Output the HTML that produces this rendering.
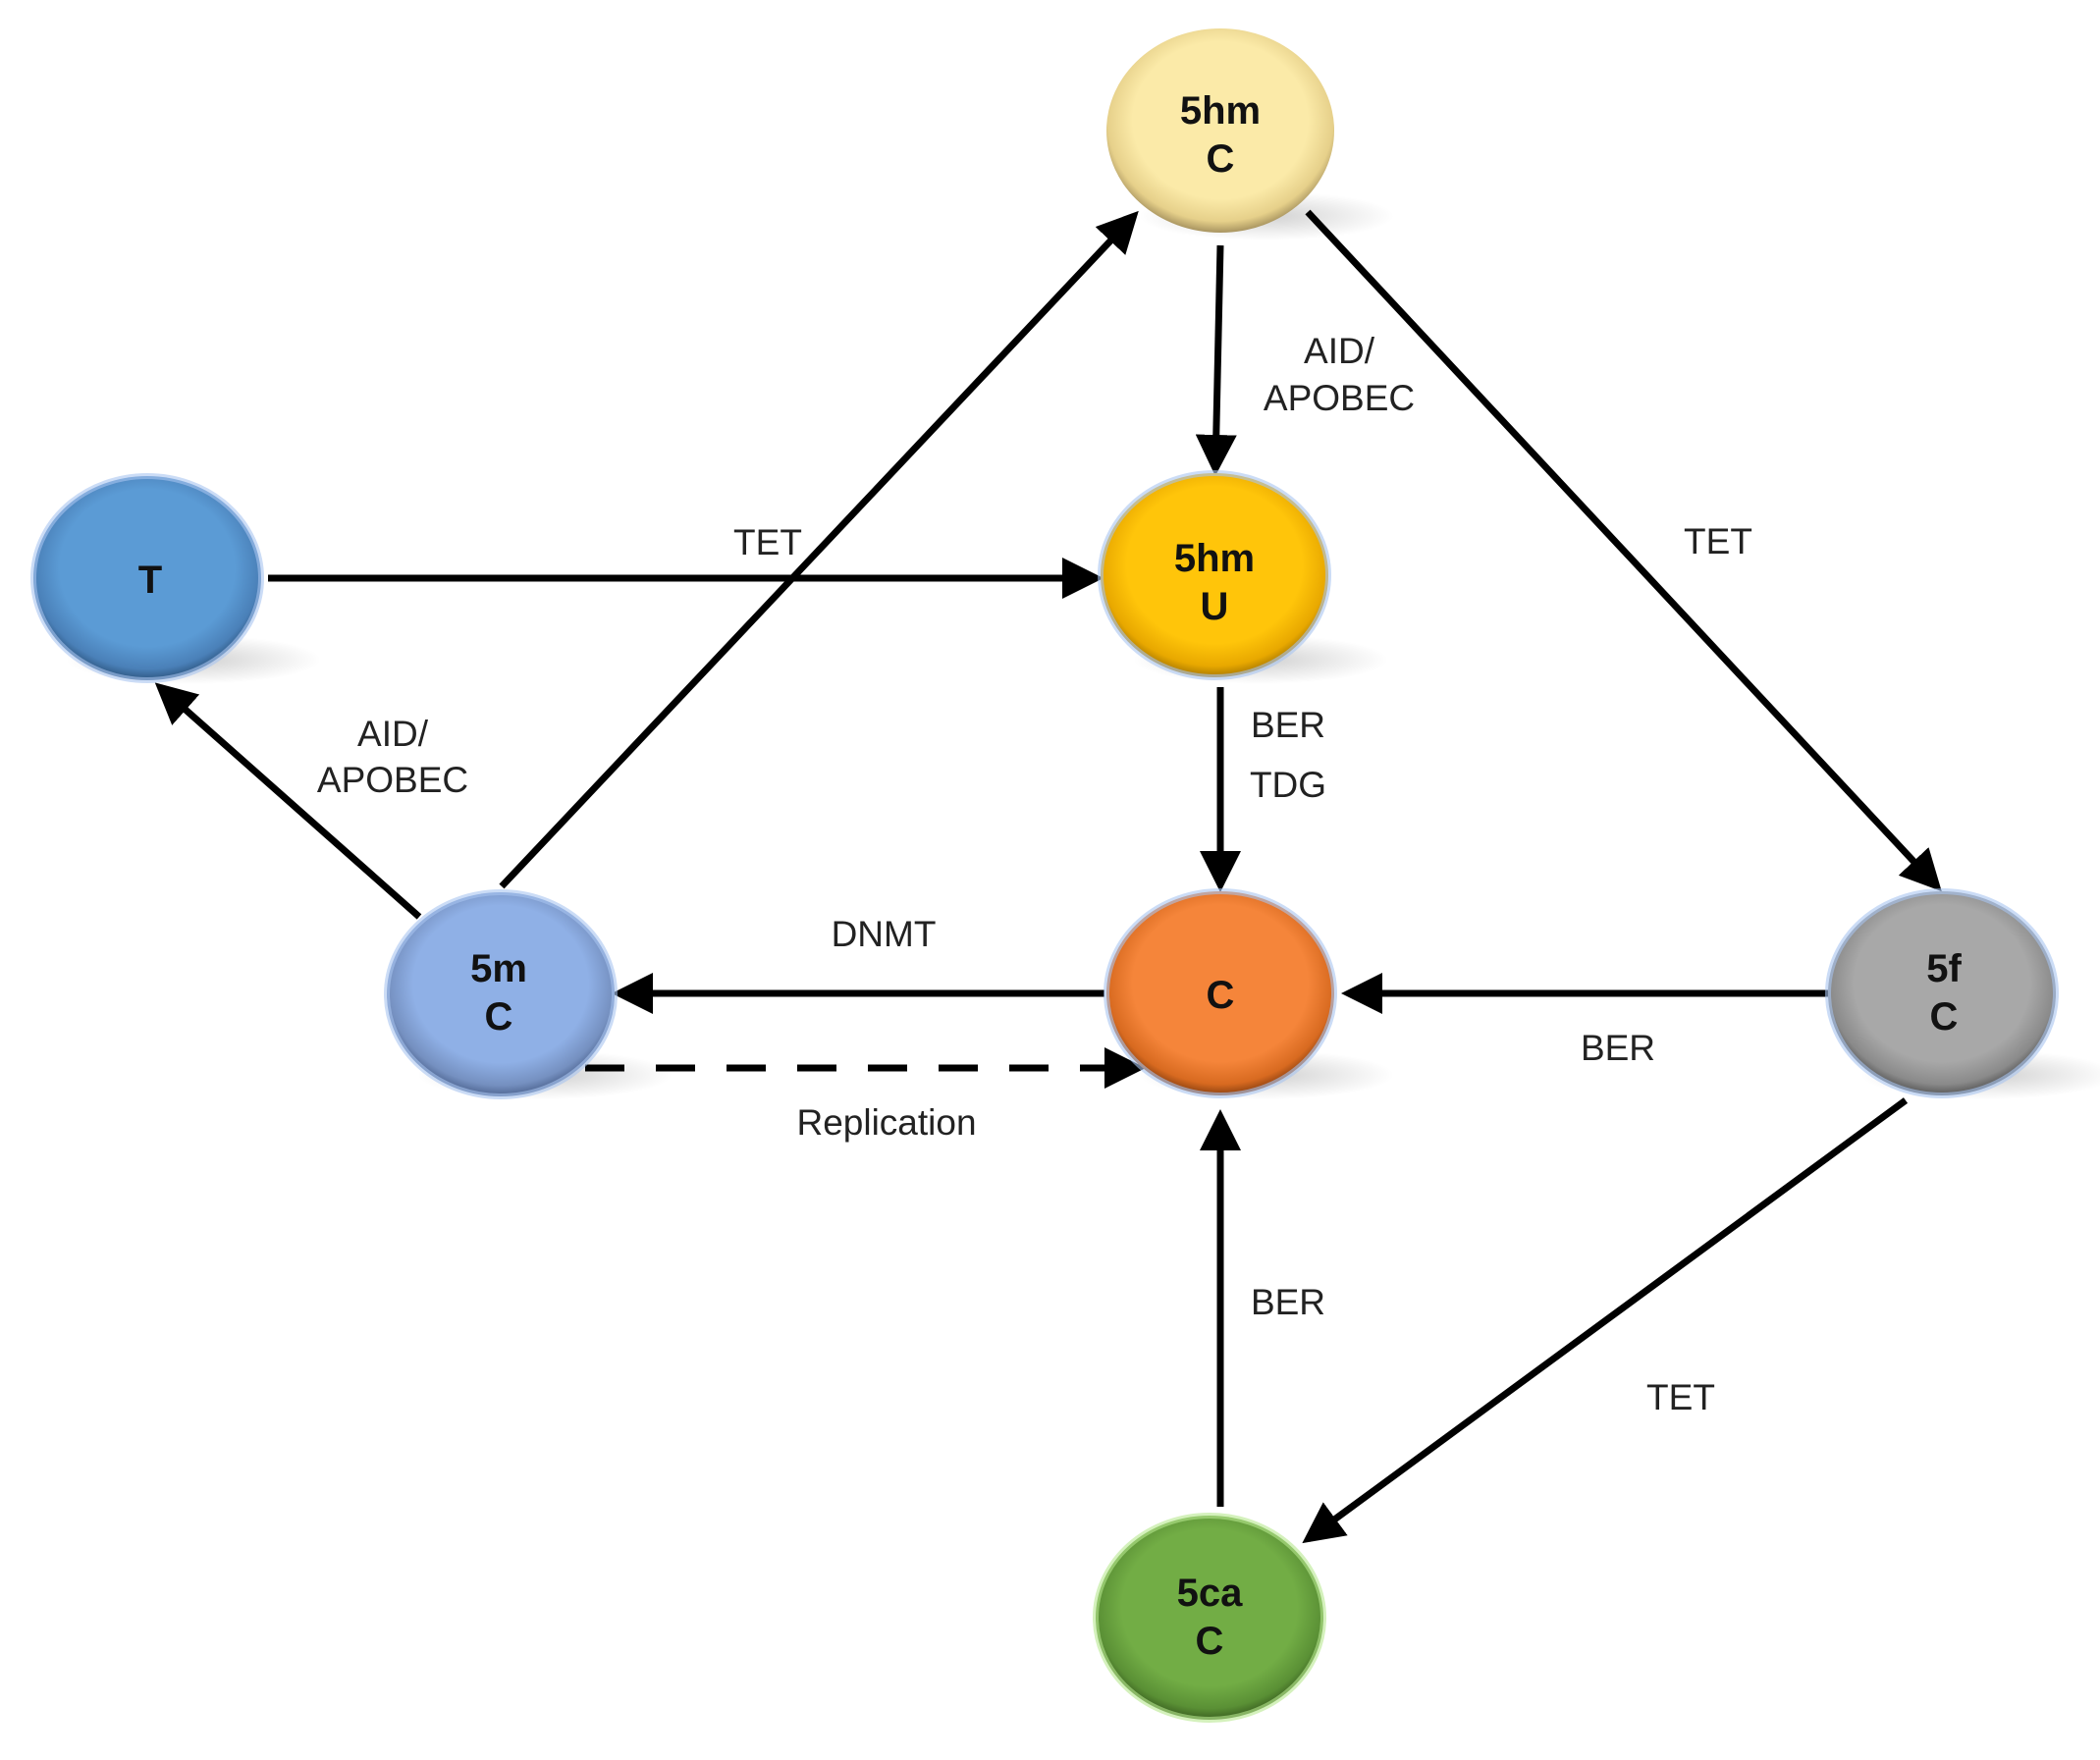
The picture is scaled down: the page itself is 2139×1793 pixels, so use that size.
<!DOCTYPE html>
<html><head><meta charset="utf-8"><style>
html,body{margin:0;padding:0;background:#fff}
svg{display:block}
text{font-family:"Liberation Sans",Arial,sans-serif}
.lbl{font-size:37px;fill:#222;text-anchor:middle}
.nd{font-size:40px;font-weight:bold;fill:#111;text-anchor:middle}
</style></head><body>
<svg width="2139" height="1793" viewBox="0 0 2139 1793" xmlns="http://www.w3.org/2000/svg">
<defs>
<marker id="ah" markerWidth="6" markerHeight="6" refX="5" refY="3" orient="auto" markerUnits="strokeWidth">
<path d="M0,0 L6,3 L0,6 Z" fill="#000"/></marker>
<radialGradient id="gY" cx="50%" cy="45%" r="55%"><stop offset="0.7" stop-color="#fbeaa8"/><stop offset="0.9" stop-color="#e6d08a"/><stop offset="1" stop-color="#a89460"/></radialGradient>
<radialGradient id="gT" cx="50%" cy="45%" r="55%"><stop offset="0.7" stop-color="#5b9bd5"/><stop offset="0.9" stop-color="#4a80b8"/><stop offset="1" stop-color="#2d5680"/></radialGradient>
<radialGradient id="gU" cx="50%" cy="45%" r="55%"><stop offset="0.7" stop-color="#ffc50a"/><stop offset="0.9" stop-color="#e8a800"/><stop offset="1" stop-color="#a87800"/></radialGradient>
<radialGradient id="gM" cx="50%" cy="45%" r="55%"><stop offset="0.7" stop-color="#8fb0e6"/><stop offset="0.9" stop-color="#7590c0"/><stop offset="1" stop-color="#4d6490"/></radialGradient>
<radialGradient id="gC" cx="50%" cy="45%" r="55%"><stop offset="0.7" stop-color="#f5853a"/><stop offset="0.9" stop-color="#d86a20"/><stop offset="1" stop-color="#8a4010"/></radialGradient>
<radialGradient id="gF" cx="50%" cy="45%" r="55%"><stop offset="0.7" stop-color="#a8a8a8"/><stop offset="0.9" stop-color="#8a8a8a"/><stop offset="1" stop-color="#555"/></radialGradient>
<radialGradient id="gG" cx="50%" cy="45%" r="55%"><stop offset="0.7" stop-color="#72ad45"/><stop offset="0.9" stop-color="#5a9035"/><stop offset="1" stop-color="#3a6020"/></radialGradient>
<radialGradient id="sh" cx="50%" cy="50%" r="50%"><stop offset="0" stop-color="#000" stop-opacity="0.18"/><stop offset="1" stop-color="#000" stop-opacity="0"/></radialGradient>
</defs>

<!-- shadows -->
<g fill="url(#sh)">
<ellipse cx="1290" cy="220" rx="130" ry="25"/>
<ellipse cx="197" cy="672" rx="130" ry="25"/>
<ellipse cx="1284" cy="672" rx="130" ry="25"/>
<ellipse cx="555" cy="1095" rx="130" ry="25"/>
<ellipse cx="1290" cy="1095" rx="130" ry="25"/>
<ellipse cx="2025" cy="1095" rx="130" ry="25"/>
</g>

<!-- connectors -->
<g stroke="#000" stroke-width="7" fill="none" marker-end="url(#ah)">
<line x1="511" y1="903" x2="1155" y2="220"/>
<line x1="1243" y1="250" x2="1238" y2="478"/>
<line x1="1332" y1="216" x2="1973" y2="903"/>
<line x1="273" y1="589" x2="1117" y2="589"/>
<line x1="427" y1="934" x2="163" y2="700"/>
<line x1="1243" y1="700" x2="1243" y2="902"/>
<line x1="1125" y1="1012" x2="630" y2="1012"/>
<line x1="1862" y1="1012" x2="1373" y2="1012"/>
<line x1="1941" y1="1121" x2="1332" y2="1568"/>
<line x1="1243" y1="1535" x2="1243" y2="1137"/>
<line x1="596" y1="1088" x2="1160" y2="1088" stroke-dasharray="40 32"/>
</g>

<!-- nodes -->
<g stroke="#a8c4f0" stroke-width="6" stroke-opacity="0.6">
<ellipse cx="1243" cy="133" rx="116" ry="104" fill="url(#gY)" stroke="none"/>
<ellipse cx="150" cy="589" rx="116" ry="104" fill="url(#gT)"/>
<ellipse cx="1237" cy="586" rx="116" ry="104" fill="url(#gU)"/>
<ellipse cx="510" cy="1013" rx="116" ry="104" fill="url(#gM)"/>
<ellipse cx="1243" cy="1012" rx="116" ry="104" fill="url(#gC)"/>
<ellipse cx="1978" cy="1012" rx="116" ry="104" fill="url(#gF)"/>
<ellipse cx="1232" cy="1648" rx="116" ry="104" fill="url(#gG)" stroke="#b8e890"/>
</g>

<!-- node labels -->
<text class="nd" x="1243" y="126">5hm</text><text class="nd" x="1243" y="175">C</text>
<text class="nd" x="153" y="604">T</text>
<text class="nd" x="1237" y="582">5hm</text><text class="nd" x="1237" y="631">U</text>
<text class="nd" x="508" y="1000">5m</text><text class="nd" x="508" y="1049">C</text>
<text class="nd" x="1243" y="1027">C</text>
<text class="nd" x="1980" y="1000">5f</text><text class="nd" x="1980" y="1049">C</text>
<text class="nd" x="1232" y="1636">5ca</text><text class="nd" x="1232" y="1685">C</text>

<!-- edge labels -->
<text class="lbl" x="1364" y="370">AID/</text>
<text class="lbl" x="1364" y="418">APOBEC</text>
<text class="lbl" x="782" y="565">TET</text>
<text class="lbl" x="1750" y="564">TET</text>
<text class="lbl" x="400" y="760">AID/</text>
<text class="lbl" x="400" y="807">APOBEC</text>
<text class="lbl" x="1312" y="751">BER</text>
<text class="lbl" x="1312" y="812">TDG</text>
<text class="lbl" x="900" y="964">DNMT</text>
<text class="lbl" x="1648" y="1080">BER</text>
<text class="lbl" x="903" y="1156">Replication</text>
<text class="lbl" x="1312" y="1339">BER</text>
<text class="lbl" x="1712" y="1436">TET</text>
</svg>
</body></html>
